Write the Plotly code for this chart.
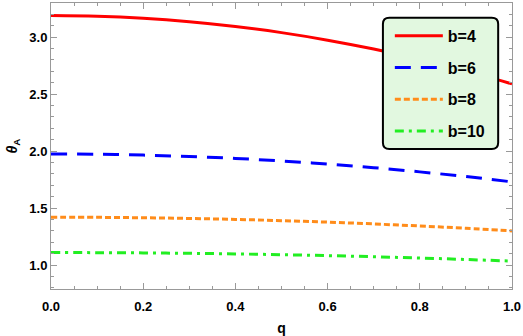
import plotly.graph_objects as go

q = [0.0, 0.1, 0.2, 0.3, 0.4, 0.5, 0.6, 0.7, 0.8, 0.9, 1.0]
theta_b4 = [3.190, 3.184, 3.166, 3.136, 3.094, 3.040, 2.974, 2.896, 2.806, 2.704, 2.590]
theta_b6 = [1.975, 1.973, 1.965, 1.953, 1.936, 1.914, 1.887, 1.855, 1.818, 1.777, 1.730]
theta_b8 = [1.420, 1.419, 1.415, 1.409, 1.401, 1.390, 1.377, 1.361, 1.343, 1.323, 1.300]
theta_b10 = [1.110, 1.109, 1.107, 1.103, 1.098, 1.091, 1.083, 1.073, 1.062, 1.049, 1.035]

series = [
    ('b=4', theta_b4, 'red', 'solid'),
    ('b=6', theta_b6, 'blue', '16px,10px'),
    ('b=8', theta_b8, '#ff8c1a', '6px,3px'),
    ('b=10', theta_b10, '#22ee22', '9px,5px,3px,5px'),
]

FONT = 'Liberation Sans, Arial, sans-serif'

fig = go.Figure()
for i, (name, ys, color, dash) in enumerate(series):
    fig.add_trace(go.Scatter(
        x=q, y=ys, mode='lines', name=name, legendgroup=str(i),
        line=dict(color=color, width=3, dash=dash, shape='spline'),
    ))

# rounded legend frame
x0, x1, y0, y1 = 0.720, 0.970, 2.018, 3.170
rx, ry = 0.014, 0.055
path = (f'M {x0+rx},{y1} L {x1-rx},{y1} Q {x1},{y1} {x1},{y1-ry} '
        f'L {x1},{y0+ry} Q {x1},{y0} {x1-rx},{y0} '
        f'L {x0+rx},{y0} Q {x0},{y0} {x0},{y0+ry} '
        f'L {x0},{y1-ry} Q {x0},{y1} {x0+rx},{y1} Z')
fig.add_shape(type='path', path=path, xref='x', yref='y',
              fillcolor='#e2f8e0', line=dict(color='black', width=2), layer='above')

axis_common = dict(
    showline=True, linecolor='#999999', linewidth=1, mirror='allticks',
    ticks='inside', tickcolor='#999999', ticklen=6, showgrid=False, zeroline=False,
    automargin=False,
    tickfont=dict(family=FONT, size=13, color='black', weight='bold'),
)
fig.update_xaxes(
    range=[0, 1], dtick=0.2, tickformat='.1f', ticklabelstandoff=5,
    minor=dict(dtick=0.05, ticks='inside', ticklen=3, tickcolor='#999999'),
    title=dict(text='q', font=dict(family=FONT, size=14, color='black', weight='bold'), standoff=20),
    **axis_common,
)
fig.update_yaxes(
    range=[0.79, 3.30], dtick=0.5, tickformat='.1f',
    minor=dict(dtick=0.1, ticks='inside', ticklen=3, tickcolor='#999999'),
    title=dict(text='<i>θ</i><sub>A</sub>', font=dict(family=FONT, size=14, color='black', weight='bold'), standoff=8),
    **axis_common,
)
fig.update_layout(
    width=523, height=336,
    margin=dict(l=51, r=11, t=3, b=47),
    plot_bgcolor='white', paper_bgcolor='white',
    legend=dict(x=0.735, y=0.945, xanchor='left', yanchor='top', bgcolor='rgba(0,0,0,0)',
                traceorder='grouped', tracegroupgap=8, itemwidth=48,
                font=dict(family=FONT, size=16, color='black', weight='bold')),
    showlegend=True,
)
fig.write_html('out.html', config={'displayModeBar': False},
               post_script="document.body.style.margin='0';")
